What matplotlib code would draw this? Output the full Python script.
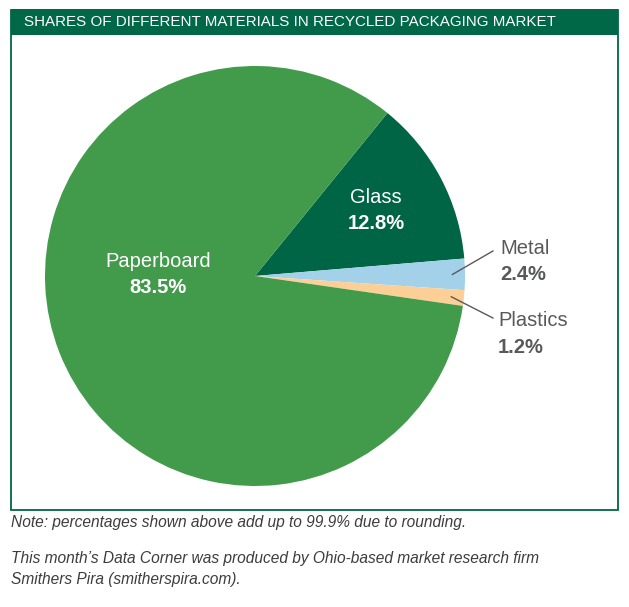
import matplotlib.pyplot as plt
from matplotlib.patches import Rectangle
import numpy as np

# chart data
materials = ['Glass', 'Metal', 'Plastics', 'Paperboard']
shares = [12.8, 2.4, 1.2, 83.5]
share_labels = ['12.8%', '2.4%', '1.2%', '83.5%']
colors = ['#006544', '#a3d1ea', '#fccf97', '#419b4b']

title = 'SHARES OF DIFFERENT MATERIALS IN RECYCLED PACKAGING MARKET'
note = 'Note: percentages shown above add up to 99.9% due to rounding.'
credit = ("This month\u2019s Data Corner was produced by Ohio-based market research firm\n"
          "Smithers Pira (smitherspira.com).")

plt.rcParams['font.family'] = ['Liberation Sans', 'DejaVu Sans']

W, H = 629, 607
fig = plt.figure(figsize=(W / 100, H / 100), dpi=100)


def fx(px):
    return px / W


def fy(py):
    return 1 - py / H


# frame box and title bar
fig.patches.append(Rectangle((fx(10.5), fy(510)), fx(607.5), 500 / H,
                             transform=fig.transFigure, fill=False,
                             edgecolor='#006747', linewidth=1.3))
fig.patches.append(Rectangle((fx(10.5), fy(35)), fx(607.5), 26 / H,
                             transform=fig.transFigure, facecolor='#006747',
                             edgecolor='none'))
fig.text(fx(24), fy(22.5), title, color='white', fontsize=10.9,
         va='center', ha='left')

# pie: centre (255, 276) px, radius 210 px
r = 210
ax = fig.add_axes([fx(255 - r), fy(276 + r), 2 * r / W, 2 * r / H])
wedges, _ = ax.pie(shares, colors=colors, startangle=50.9, counterclock=False,
                   wedgeprops=dict(linewidth=0))
ax.set_xlim(-1, 1)
ax.set_ylim(-1, 1)
ax.set_aspect('equal')
ax.axis('off')

# labels inside wedges
ax.text(-0.46, 0.067, 'Paperboard', color='white', fontsize=14.5,
        ha='center', va='center')
ax.text(-0.46, -0.057, share_labels[3], color='white', fontsize=14.5,
        ha='center', va='center', fontweight='bold')
ax.text(0.576, 0.376, 'Glass', color='white', fontsize=14.5,
        ha='center', va='center')
ax.text(0.576, 0.248, share_labels[0], color='white', fontsize=14.5,
        ha='center', va='center', fontweight='bold')

# outside labels with leader lines
gray = '#58595b'
outside = [(1, 1.167, 0.133, 0.119), (2, 1.157, -0.214, -0.2)]
for i, tx, ty, ly in outside:
    w = wedges[i]
    mid = np.deg2rad((w.theta1 + w.theta2) / 2)
    x0, y0 = 0.94 * np.cos(mid), 0.94 * np.sin(mid)
    ax.plot([x0, 1.133], [y0, ly], color=gray, lw=1.0, clip_on=False)
    ax.text(tx, ty, materials[i], color=gray, fontsize=14.5,
            ha='left', va='center')
    ax.text(tx, ty - 0.126, share_labels[i], color=gray, fontsize=14.5,
            ha='left', va='center', fontweight='bold')

# footnotes
fig.text(fx(11), fy(523), note, color='#3d3d3d', fontsize=11.2,
         style='italic', va='center')
fig.text(fx(11), fy(569), credit, color='#3d3d3d', fontsize=11.2,
         style='italic', va='center', linespacing=1.5)

fig.savefig('out.png', dpi=100)
